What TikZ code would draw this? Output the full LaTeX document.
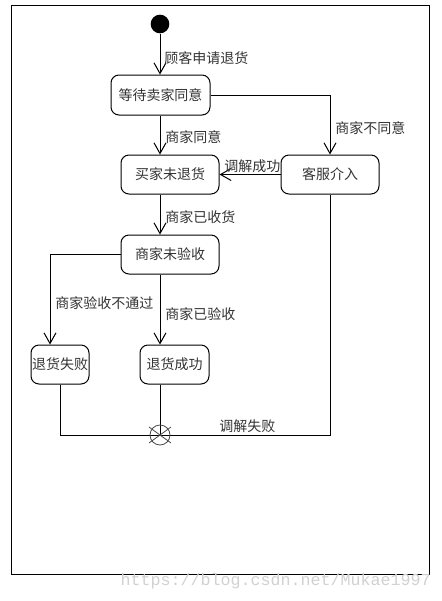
\documentclass[tikz,border=0pt]{standalone}
\usepackage{fontspec}
\newfontfamily\cjk{Noto Sans CJK SC}
\newfontfamily\wmfont{Liberation Mono}
\usetikzlibrary{arrows.meta,calc}
\begin{document}
\begin{tikzpicture}[x=0.75pt,y=-0.75pt,
  state/.style={draw,rounded corners=6pt,line width=0.75pt,inner sep=0pt,font=\cjk\fontsize{10.5}{12}\selectfont,text=black!80},
  lbl/.style={anchor=west,inner sep=0pt,font=\cjk\fontsize{10.5}{12}\selectfont,text=black!80},
  flow/.style={line width=0.75pt,-{Straight Barb[length=8pt,width=9pt]}},
  plain/.style={line width=0.75pt}]
\useasboundingbox (0,0) rectangle (442,601);
\draw[line width=0.75pt] (11,5) rectangle (429,574);
\node[circle,fill=black,inner sep=0pt,minimum size=14pt] (start) at (160,24) {};
\node[state,minimum width=74.25pt,minimum height=30pt] (wait) at (160.5,95) {等待卖家同意};
\node[state,minimum width=73.5pt,minimum height=29.25pt] (buyer) at (170,174.5) {买家未退货};
\node[state,minimum width=73.5pt,minimum height=29.25pt] (service) at (330,174.5) {客服介入};
\node[state,minimum width=73.5pt,minimum height=29.25pt] (check) at (170,254.5) {商家未验收};
\node[state,minimum width=43.5pt,minimum height=29.25pt] (fail) at (60,364.5) {退货失败};
\node[state,minimum width=51.75pt,minimum height=29.25pt] (success) at (174.5,364.5) {退货成功};
\coordinate (final) at (160,435);
\coordinate (leftx) at (50,0);
% connectors
\draw[flow] (start.south) -- (wait.north -| start);
\draw[flow] (wait.south -| start) -- (buyer.north -| start);
\draw[flow] (wait.east) -| (service.north);
\draw[flow] (service.west) -- (buyer.east);
\draw[flow] (buyer.south -| start) -- (check.north -| start);
\draw[flow] (check.west) -| (fail.north -| leftx);
\draw[flow] (check.south -| start) -- (success.north -| start);
\draw[plain] (fail.south) |- (final);
\draw[plain] (success.south -| final) -- (final);
\draw[plain] (service.south) |- (final);
% flow final
\node[circle,draw=black!70,line width=0.6pt,minimum size=15pt,inner sep=0pt] (end) at (final) {};
\draw[black!70,line width=0.6pt] ($(final)+(-11,-8)$) -- ($(final)+(11,8)$);
\draw[black!70,line width=0.6pt] ($(final)+(-11,8)$) -- ($(final)+(11,-8)$);
% labels
\node[lbl] (l1) at (164,58) {顾客申请退货};
\node[lbl] (l2) at (165,137) {商家同意};
\node[lbl] (l3) at (335,128) {商家不同意};
\node[lbl] (l4) at (224,166) {调解成功};
\node[lbl] (l5) at (165,217) {商家已收货};
\node[lbl] (l6) at (55,303) {商家验收不通过};
\node[lbl] (l7) at (165,314) {商家已验收};
\node[lbl] (l8) at (219,426) {调解失败};
\node[anchor=east,inner sep=0pt,text=black!18,font=\wmfont\fontsize{12.5}{14}\selectfont] (wm) at (431,581) {https://blog.csdn.net/Mukae1997};
\end{tikzpicture}
\end{document}
